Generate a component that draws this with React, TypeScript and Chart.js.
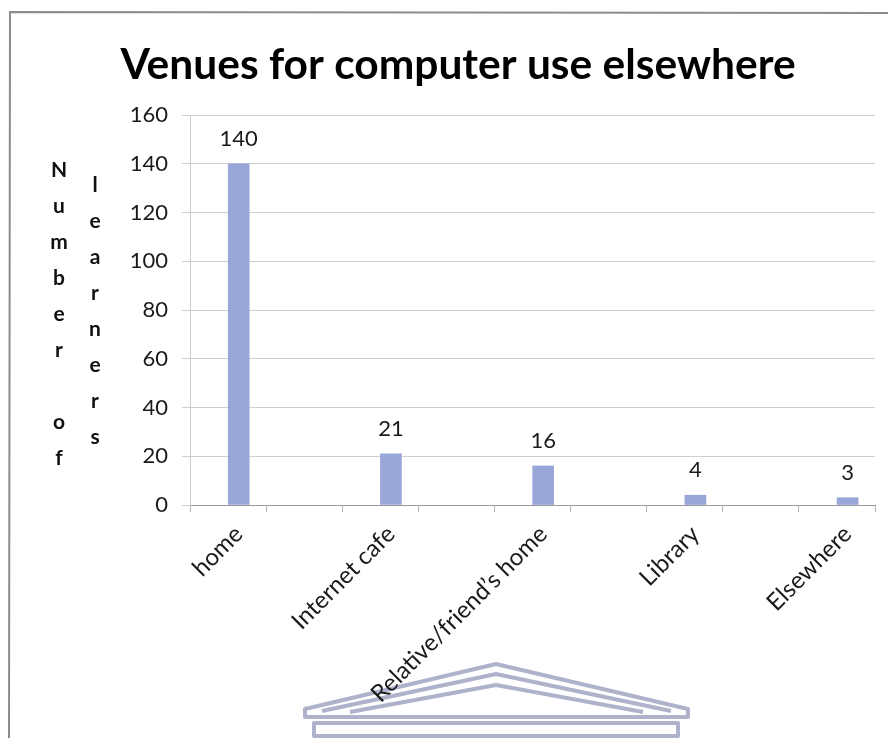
import { useEffect, useRef } from "react";
import { Chart, registerables } from "chart.js";

Chart.register(...registerables);

// Survey data: where learners use a computer outside school
const chartTitle = "Venues for computer use elsewhere";
const venues = ["home", "Internet cafe", "Relative/friend\u2019s home", "Library", "Elsewhere"];
const learners = [140, 21, 16, 4, 3];
const yTickValues = [0, 20, 40, 60, 80, 100, 120, 140, 160];
const yTitleColumns = ["Number of", "learners"];

// x range in category units (category centres sit at 0..4)
const X_MIN = -0.32;
const X_MAX = 4.18;
const X_MARK_STEP = 0.5;

const FONT = "Lato, 'Open Sans', sans-serif";

const frameAndEmblem = {
  id: "frameAndEmblem",
  beforeDraw(chart: any) {
    const { ctx, width, height } = chart;
    ctx.save();
    ctx.fillStyle = "#ffffff";
    ctx.fillRect(0, 0, width, height);

    // page frame
    ctx.strokeStyle = "#8c8c8c";
    ctx.lineWidth = 2;
    ctx.beginPath();
    ctx.moveTo(width, 13);
    ctx.lineTo(10, 12);
    ctx.lineTo(9, height);
    ctx.stroke();

    // faint emblem printed under the chart
    ctx.strokeStyle = "rgba(160,164,194,0.85)";
    ctx.lineWidth = 4;
    ctx.lineJoin = "round";
    const cx = 496;
    ctx.beginPath();
    ctx.moveTo(305, 709);
    ctx.lineTo(cx, 664);
    ctx.lineTo(688, 709);
    ctx.lineTo(688, 717);
    ctx.lineTo(305, 717);
    ctx.closePath();
    ctx.stroke();
    ctx.beginPath();
    ctx.moveTo(322, 711);
    ctx.lineTo(cx, 674);
    ctx.lineTo(671, 711);
    ctx.stroke();
    ctx.beginPath();
    ctx.moveTo(350, 712);
    ctx.lineTo(cx, 685);
    ctx.lineTo(643, 712);
    ctx.stroke();
    ctx.strokeRect(314, 723, 364, 13);
    ctx.restore();
  },
};

const headingAndYTitle = {
  id: "headingAndYTitle",
  afterDraw(chart: any) {
    const { ctx } = chart;
    ctx.save();
    // chart heading
    ctx.font = `bold 42.5px ${FONT}`;
    ctx.fillStyle = "#000";
    ctx.textAlign = "center";
    ctx.textBaseline = "alphabetic";
    ctx.fillText(chartTitle, 458, 79);

    // stacked axis title, one letter per line
    ctx.font = `bold 21px ${FONT}`;
    ctx.fillStyle = "#111";
    ctx.textBaseline = "middle";
    const colX = [59, 95];
    const colY = [170, 185];
    const step = 36;
    yTitleColumns.forEach((text, c) => {
      Array.from(text).forEach((ch, i) => {
        if (ch !== " ") ctx.fillText(ch, colX[c], colY[c] + i * step);
      });
    });
    ctx.restore();
  },
};

const valueLabels = {
  id: "valueLabels",
  afterDatasetsDraw(chart: any) {
    const { ctx } = chart;
    const meta = chart.getDatasetMeta(0);
    ctx.save();
    ctx.font = `22px ${FONT}`;
    ctx.fillStyle = "#1a1a1a";
    ctx.textAlign = "center";
    ctx.textBaseline = "middle";
    meta.data.forEach((bar: any, i: number) => {
      ctx.fillText(String(learners[i]), bar.x, bar.y - 25);
    });
    ctx.restore();
  },
};

export default function App() {
  const canvasRef = useRef<HTMLCanvasElement | null>(null);

  useEffect(() => {
    if (!canvasRef.current) return;
    const xMarks: number[] = [];
    for (let v = X_MIN; v <= X_MAX + 1e-9; v += X_MARK_STEP) xMarks.push(Math.round(v * 100) / 100);
    const xTicks = [...xMarks, ...venues.map((_, i) => i)].sort((a, b) => a - b);

    const chart = new Chart(canvasRef.current, {
      type: "bar",
      data: {
        datasets: [
          {
            data: learners.map((v, i) => ({ x: i, y: v })),
            backgroundColor: "#98a6d8",
            borderWidth: 0,
            barThickness: 21,
          },
        ],
      },
      options: {
        animation: false,
        responsive: false,
        devicePixelRatio: 1,
        layout: { padding: { left: 110, right: 13, top: 115, bottom: 0 } },
        plugins: {
          legend: { display: false },
          tooltip: { enabled: false },
          title: { display: false },
        },
        scales: {
          x: {
            type: "linear",
            min: X_MIN,
            max: X_MAX,
            offset: false,
            afterBuildTicks: (scale: any) => {
              scale.ticks = xTicks.map((v) => ({ value: v }));
            },
            afterFit: (scale: any) => {
              scale.height = 233;
              scale.paddingLeft = 0;
              scale.paddingRight = 0;
            },
            ticks: {
              autoSkip: false,
              minRotation: 45,
              maxRotation: 45,
              padding: 8,
              color: "#1a1a1a",
              font: { family: FONT, size: 24 },
              callback: (value: any) => (Number.isInteger(value) ? venues[value] : ""),
            },
            grid: {
              offset: false,
              drawOnChartArea: false,
              drawTicks: true,
              tickLength: 7,
              tickColor: (ctx: any) =>
                ctx.tick && Number.isInteger(ctx.tick.value) ? "rgba(0,0,0,0)" : "#b4b4b4",
            },
            border: { color: "#9a9a9a", width: 1 },
          },
          y: {
            min: 0,
            max: 160,
            afterBuildTicks: (scale: any) => {
              scale.ticks = yTickValues.map((v) => ({ value: v }));
            },
            afterFit: (scale: any) => {
              scale.width = 80;
            },
            ticks: {
              padding: 14,
              color: "#1a1a1a",
              font: { family: FONT, size: 22 },
            },
            grid: {
              color: "#cfcfcf",
              tickLength: 8,
            },
            border: { color: "#cfcfcf", width: 1 },
          },
        },
      },
      plugins: [frameAndEmblem, headingAndYTitle, valueLabels],
    });
    return () => chart.destroy();
  }, []);

  return (
    <div style={{ position: "absolute", left: 0, top: 0, width: 888, height: 738 }}>
      <canvas ref={canvasRef} width={888} height={738} style={{ width: 888, height: 738, display: "block" }} />
    </div>
  );
}
